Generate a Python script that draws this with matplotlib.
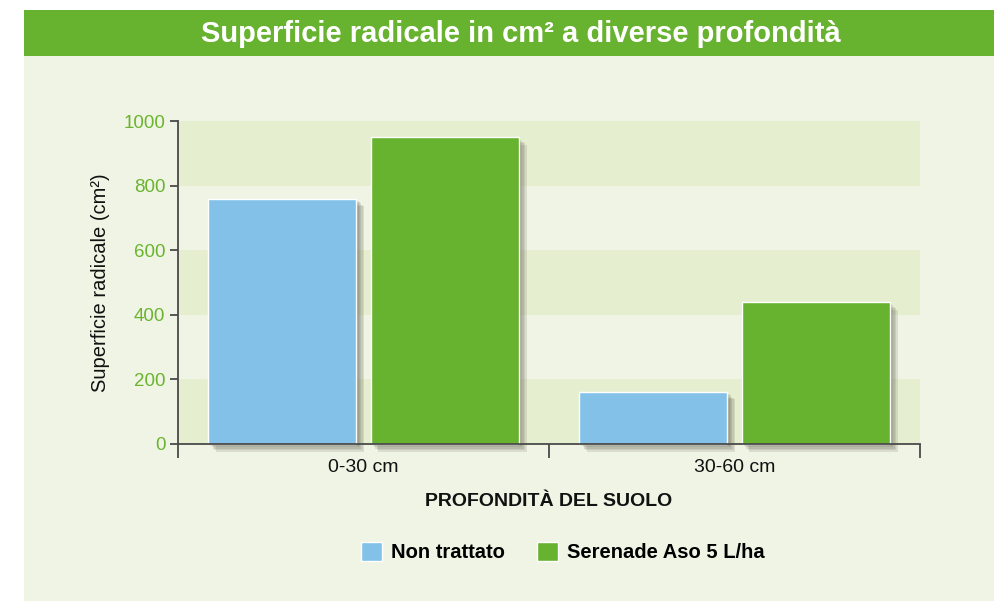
import matplotlib
matplotlib.use("Agg")
import matplotlib.pyplot as plt
import matplotlib.patheffects as pe
from matplotlib.patches import Rectangle, Patch
import numpy as np

categories = ["0-30 cm", "30-60 cm"]
series_names = ["Non trattato", "Serenade Aso 5 L/ha"]
non_trattato = [760, 162]
serenade = [950, 440]
yticks = [0, 200, 400, 600, 800, 1000]

BLUE = "#83c1e9"
GREEN = "#67b22f"
BG = "#f0f4e4"
BAND = "#e6eed0"
AXC = "#4a4a4a"

plt.rcParams['font.family'] = ['Liberation Sans', 'DejaVu Sans']

W, H = 995, 601
fig = plt.figure(figsize=(W/100, H/100), dpi=100)
fig.patch.set_facecolor("white")

# background panel and title bar
fig.patches.append(Rectangle((24.5/W, 0), 1 - 24.5/W, (H-56)/H, transform=fig.transFigure,
                             facecolor=BG, edgecolor="none", zorder=-10))
fig.patches.append(Rectangle((24.5/W, (H-56)/H), 1 - 24.5/W, 46/H, transform=fig.transFigure,
                             facecolor=GREEN, edgecolor="none", zorder=-10))
fig.text(521/W, (H-34)/H, "Superficie radicale in cm² a diverse profondità",
         ha="center", va="center", color="white", fontsize=21, fontweight="bold")

ax_l, ax_r, ax_b, ax_t = 178, 920, 444, 121
ax = fig.add_axes([ax_l/W, (H-ax_b)/H, (ax_r-ax_l)/W, (ax_b-ax_t)/H])
ax.set_zorder(2)
ax.set_facecolor("none")
ax.set_xlim(-0.5, 1.5)
ax.set_ylim(0, 1000)

# alternating bands
for i, (lo, hi) in enumerate(zip(yticks[:-1], yticks[1:])):
    if i % 2 == 0:
        ax.axhspan(lo, hi, facecolor=BAND, edgecolor="none", zorder=0)

x = np.arange(len(categories))
width = 0.40
off = 0.219
shadow = [pe.SimplePatchShadow(offset=(d, -d), shadow_rgbFace="#6a6a5a", alpha=0.16)
          for d in (1.5, 2.5, 3.5, 4.5, 5.5)] + [pe.Normal()]
b1 = ax.bar(x - off, non_trattato, width, color=BLUE, edgecolor="white", linewidth=1.0,
            zorder=3, label=series_names[0])
b2 = ax.bar(x + off, serenade, width, color=GREEN, edgecolor="white", linewidth=1.0,
            zorder=3, label=series_names[1])
for b in list(b1) + list(b2):
    b.set_path_effects(shadow)
    b.set_clip_on(False)

for s in ["top", "right"]:
    ax.spines[s].set_visible(False)
for s in ["left", "bottom"]:
    ax.spines[s].set_color(AXC)
    ax.spines[s].set_linewidth(1.3)
    ax.spines[s].set_zorder(5)

ax.set_yticks(yticks)
ax.set_yticklabels([str(v) for v in yticks], color="#6ab42f", fontsize=13.5)
ax.tick_params(axis="y", length=6, width=1.3, color=AXC, pad=3)

# x ticks at boundaries, labels at centres
ax.set_xticks([-0.5, 0.5, 1.5])
ax.set_xticklabels(["", "", ""])
ax.set_xticks(x, minor=True)
ax.set_xticklabels(categories, minor=True, fontsize=14, color="#111111")
ax.tick_params(axis="x", which="major", length=10, width=1.3, color=AXC, direction="out")
ax.tick_params(axis="x", which="minor", length=0, pad=11)

ax.set_xlabel("PROFONDITÀ DEL SUOLO", fontsize=14, fontweight="bold", color="#111111", labelpad=12)
ax.set_ylabel("Superficie radicale (cm²)", fontsize=14.5, color="#111111", labelpad=10)

handles = [Patch(facecolor=BLUE, edgecolor="white", linewidth=1.0),
           Patch(facecolor=GREEN, edgecolor="white", linewidth=1.0)]
leg = fig.legend(handles=handles, labels=series_names, loc="center", ncol=2,
                 bbox_to_anchor=(563/W, (H-552)/H), frameon=False,
                 prop={"weight": "bold", "size": 14.5}, handlelength=1.05, handleheight=1.05,
                 handletextpad=0.45, columnspacing=1.6)

fig.savefig("out.png", dpi=100, facecolor=fig.get_facecolor())
